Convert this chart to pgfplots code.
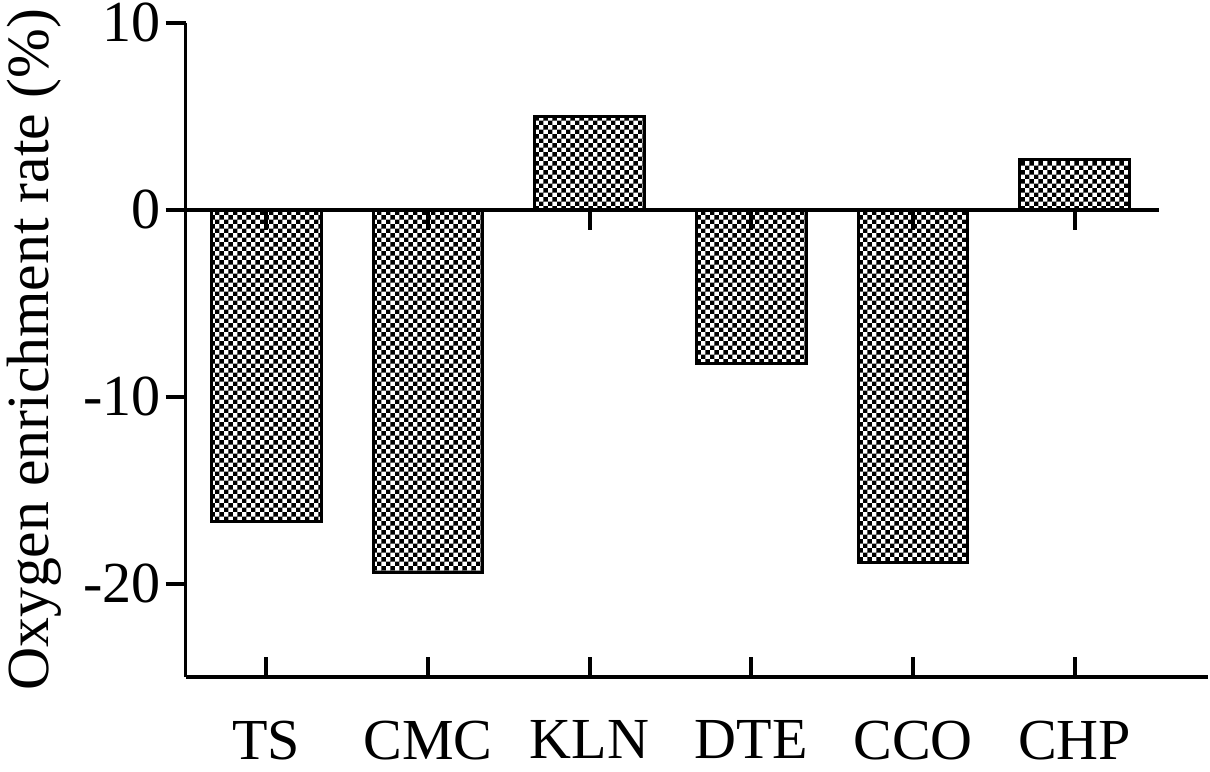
\documentclass[border=0pt]{standalone}
\usepackage{fontspec}
\setmainfont{Liberation Serif}
\usepackage{pgfplots}
\pgfplotsset{compat=1.18}
\usetikzlibrary{patterns}

% fine checkerboard fill like the original
\pgfdeclarepatternformonly{finechecker}{\pgfpointorigin}{\pgfpoint{2.7pt}{2.7pt}}{\pgfpoint{2.7pt}{2.7pt}}{%
  \pgfpathrectangle{\pgfpointorigin}{\pgfpoint{1.35pt}{1.35pt}}%
  \pgfpathrectangle{\pgfpoint{1.35pt}{1.35pt}}{\pgfpoint{1.35pt}{1.35pt}}%
  \pgfusepath{fill}}

\begin{document}
\begin{tikzpicture}
\begin{axis}[
    scale only axis,
    width=308.1pt,
    height=197.1pt,
    axis x line=bottom,
    axis y line=left,
    axis line style={-, line width=1.2pt},
    xmin=-0.5, xmax=5.825,
    ymin=-25, ymax=10,
    xtick={0,1,2,3,4,5},
    xticklabels={TS,CMC,KLN,DTE,CCO,CHP},
    ytick={-20,-10,0,10},
    yticklabels={-20,-10,0,10},
    tick align=inside,
    major tick length=6pt,
    tick style={black, line width=1.2pt},
    ytick style={xshift=-6pt},
    xtick style={draw=none},
    tick label style={font=\fontsize{17.5}{20}\selectfont},
    xticklabel style={inner xsep=0pt, inner ysep=3.5pt, yshift=-3.5pt},
    yticklabel style={inner ysep=1pt, xshift=-4pt},
    ylabel={Oxygen enrichment rate (\%)},
    every axis y label/.style={at={(axis description cs:-0.1344,0.5)}, rotate=90, anchor=base, inner sep=2pt, font=\fontsize{18}{21}\selectfont},
    ybar,
    bar width=33pt,
    clip=false,
]
\addplot[draw=black, line width=0.9pt, pattern=finechecker, pattern color=black]
  coordinates {(0,-16.7) (1,-19.4) (2,5.0) (3,-8.2) (4,-18.85) (5,2.7)};
\draw[black, line width=1.2pt] (axis cs:-0.5,0) -- (axis cs:5.52,0);
\pgfplotsinvokeforeach{0,...,5}{
  \draw[black, line width=1.2pt] (axis cs:#1,0) -- ([yshift=-6pt]axis cs:#1,0);
  \draw[black, line width=1.2pt] (axis cs:#1,-25) -- ([yshift=6pt]axis cs:#1,-25);
}
\end{axis}
\end{tikzpicture}
\end{document}
